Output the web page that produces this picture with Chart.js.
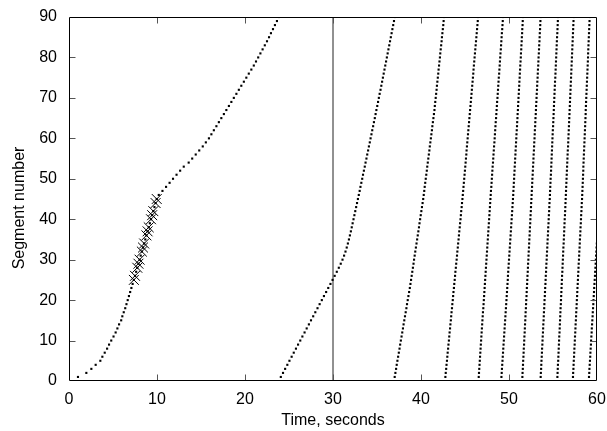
<!DOCTYPE html>
<html>
<head>
<meta charset="utf-8">
<script src="https://cdn.jsdelivr.net/npm/chart.js@4.4.1/dist/chart.umd.min.js"></script>
<style>
html,body{margin:0;padding:0;background:#fff;}
#wrap{width:607px;height:431px;position:relative;}
</style>
</head>
<body>
<div id="wrap"><canvas id="c" width="607" height="431"></canvas></div>
<script>
// ---- data ----
const xTicks = [0, 10, 20, 30, 40, 50, 60];
const yTicks = [0, 10, 20, 30, 40, 50, 60, 70, 80, 90];
const xTitle = 'Time, seconds';
const yTitle = 'Segment number';
const markerTime = 30;

const segmentNumbers = [1,2,3,4,5,6,7,8,9,10,11,12,13,14,15,16,17,18,19,20,21,22,23,24,25,26,27,28,29,30,
31,32,33,34,35,36,37,38,39,40,41,42,43,44,45,46,47,48,49,50,51,52,53,54,55,56,57,58,59,60,
61,62,63,64,65,66,67,68,69,70,71,72,73,74,75,76,77,78,79,80,81,82,83,84,85,86,87,88,89,90];

const times1 = [1.02,1.97,2.54,3.03,3.56,3.79,4.06,4.33,4.55,4.80,5.06,5.30,5.50,5.69,5.93,6.06,6.22,6.39,6.53,6.67,
6.81,6.95,7.09,7.23,7.37,7.50,7.63,7.76,7.89,8.02,8.15,8.28,8.41,8.54,8.67,8.80,8.93,9.06,9.19,9.32,
9.45,9.58,9.71,9.84,9.97,10.20,10.62,11.03,11.43,11.82,12.22,12.63,13.04,13.60,14.00,14.40,14.80,15.20,15.55,15.90,
16.18,16.46,16.75,17.03,17.31,17.60,17.88,18.17,18.45,18.73,19.02,19.30,19.58,19.87,20.15,20.43,20.72,21.00,21.25,21.50,
21.75,22.00,22.25,22.50,22.73,22.95,23.18,23.40,23.63,23.85];

const times2 = [24.07,24.32,24.56,24.81,25.05,25.30,25.54,25.79,26.03,26.28,26.52,26.77,27.01,27.26,27.50,27.75,27.99,28.24,28.48,28.73,
28.97,29.22,29.46,29.71,29.95,30.19,30.43,30.66,30.88,31.08,31.26,31.42,31.56,31.69,31.81,31.92,32.03,32.13,32.23,32.33,
32.43,32.53,32.63,32.73,32.83,32.93,33.03,33.12,33.22,33.32,33.41,33.51,33.61,33.70,33.80,33.89,33.99,34.08,34.18,34.27,
34.37,34.46,34.56,34.65,34.75,34.84,34.93,35.03,35.12,35.21,35.30,35.40,35.49,35.58,35.67,35.76,35.85,35.94,36.03,36.12,
36.21,36.30,36.39,36.48,36.57,36.66,36.75,36.84,36.93,37.02];

const times3 = [37.01,37.09,37.17,37.24,37.32,37.40,37.48,37.56,37.63,37.71,37.79,37.87,37.95,38.02,38.10,38.18,38.26,38.34,38.41,38.49,
38.57,38.65,38.73,38.80,38.87,38.94,39.01,39.08,39.15,39.21,39.28,39.35,39.42,39.49,39.56,39.63,39.70,39.77,39.83,39.90,
39.97,40.04,40.11,40.18,40.25,40.31,40.37,40.42,40.48,40.54,40.60,40.66,40.71,40.77,40.83,40.89,40.95,41.00,41.06,41.12,
41.18,41.24,41.29,41.35,41.41,41.47,41.53,41.57,41.62,41.67,41.72,41.77,41.81,41.86,41.91,41.96,42.00,42.05,42.10,42.15,
42.19,42.24,42.29,42.34,42.38,42.43,42.48,42.53,42.57,42.62];

const times4 = [42.77,42.81,42.86,42.90,42.95,42.99,43.03,43.08,43.12,43.17,43.21,43.25,43.30,43.34,43.39,43.43,43.47,43.52,43.56,43.61,
43.65,43.69,43.74,43.78,43.83,43.87,43.91,43.96,44.00,44.05,44.09,44.13,44.18,44.22,44.27,44.31,44.35,44.40,44.44,44.49,
44.53,44.57,44.62,44.66,44.71,44.75,44.79,44.83,44.87,44.91,44.95,44.99,45.03,45.07,45.11,45.15,45.18,45.22,45.26,45.30,
45.34,45.38,45.42,45.46,45.50,45.54,45.58,45.62,45.66,45.70,45.74,45.78,45.82,45.86,45.90,45.94,45.97,46.01,46.05,46.09,
46.13,46.17,46.21,46.25,46.29,46.33,46.37,46.41,46.45,46.49];

const times5 = [46.56,46.59,46.62,46.65,46.68,46.71,46.74,46.77,46.80,46.83,46.86,46.89,46.92,46.95,46.98,47.01,47.04,47.08,47.11,47.14,
47.17,47.20,47.23,47.26,47.29,47.32,47.35,47.38,47.41,47.44,47.47,47.50,47.53,47.56,47.59,47.62,47.65,47.68,47.71,47.74,
47.77,47.80,47.83,47.86,47.89,47.92,47.95,47.99,48.02,48.05,48.08,48.11,48.14,48.18,48.21,48.24,48.27,48.30,48.34,48.37,
48.40,48.43,48.46,48.49,48.53,48.56,48.59,48.62,48.65,48.69,48.72,48.75,48.78,48.81,48.84,48.88,48.91,48.94,48.97,49.00,
49.03,49.07,49.10,49.13,49.16,49.19,49.23,49.26,49.29,49.32];

const times6 = [49.14,49.17,49.20,49.23,49.26,49.29,49.32,49.35,49.38,49.41,49.44,49.47,49.50,49.53,49.56,49.59,49.62,49.65,49.68,49.71,
49.74,49.77,49.80,49.83,49.86,49.88,49.91,49.94,49.97,50.00,50.03,50.06,50.09,50.12,50.15,50.18,50.21,50.24,50.27,50.30,
50.33,50.36,50.39,50.42,50.45,50.48,50.50,50.53,50.55,50.58,50.60,50.63,50.65,50.68,50.70,50.73,50.75,50.78,50.80,50.83,
50.85,50.88,50.91,50.93,50.96,50.98,51.01,51.03,51.06,51.08,51.11,51.13,51.16,51.18,51.21,51.23,51.26,51.28,51.31,51.34,
51.36,51.39,51.41,51.44,51.46,51.49,51.51,51.54,51.56,51.59];

const times7 = [51.52,51.54,51.57,51.59,51.61,51.64,51.66,51.68,51.71,51.73,51.75,51.78,51.80,51.82,51.85,51.87,51.89,51.92,51.94,51.96,
51.99,52.01,52.03,52.06,52.08,52.10,52.13,52.15,52.17,52.20,52.22,52.24,52.27,52.29,52.31,52.34,52.36,52.38,52.41,52.43,
52.45,52.48,52.50,52.52,52.55,52.57,52.59,52.62,52.64,52.66,52.69,52.71,52.73,52.76,52.78,52.80,52.83,52.85,52.87,52.90,
52.92,52.94,52.97,52.99,53.01,53.04,53.06,53.08,53.11,53.13,53.15,53.18,53.20,53.22,53.25,53.27,53.29,53.32,53.34,53.36,
53.39,53.41,53.43,53.46,53.48,53.50,53.53,53.55,53.57,53.60];

const times8 = [53.60,53.62,53.65,53.67,53.69,53.72,53.74,53.76,53.79,53.81,53.83,53.86,53.88,53.90,53.93,53.95,53.97,54.00,54.02,54.04,
54.07,54.09,54.11,54.14,54.16,54.18,54.21,54.23,54.25,54.28,54.30,54.32,54.35,54.37,54.39,54.42,54.44,54.46,54.49,54.51,
54.53,54.56,54.58,54.60,54.63,54.65,54.67,54.69,54.71,54.73,54.76,54.78,54.80,54.82,54.84,54.86,54.88,54.90,54.92,54.94,
54.96,54.98,55.01,55.03,55.05,55.07,55.09,55.11,55.13,55.15,55.17,55.19,55.21,55.23,55.26,55.28,55.30,55.32,55.34,55.36,
55.38,55.40,55.42,55.44,55.46,55.49,55.51,55.53,55.55,55.57];

const times9 = [55.50,55.52,55.54,55.56,55.59,55.61,55.63,55.65,55.67,55.69,55.71,55.74,55.76,55.78,55.80,55.82,55.84,55.86,55.89,55.91,
55.93,55.95,55.97,55.99,56.01,56.03,56.06,56.08,56.10,56.12,56.14,56.16,56.18,56.21,56.23,56.25,56.27,56.29,56.31,56.33,
56.36,56.38,56.40,56.42,56.44,56.46,56.48,56.50,56.52,56.54,56.56,56.58,56.60,56.62,56.64,56.66,56.68,56.71,56.73,56.75,
56.77,56.79,56.81,56.83,56.85,56.87,56.89,56.91,56.93,56.95,56.97,56.99,57.01,57.03,57.05,57.07,57.09,57.11,57.13,57.15,
57.17,57.19,57.21,57.23,57.25,57.27,57.29,57.31,57.33,57.35];

const times10 = [57.27,57.29,57.32,57.34,57.36,57.39,57.41,57.43,57.46,57.48,57.50,57.53,57.55,57.57,57.60,57.62,57.64,57.67,57.69,57.71,
57.74,57.76,57.78,57.81,57.83,57.85,57.88,57.90,57.92,57.95,57.97,57.99,58.02,58.04,58.06,58.09,58.11,58.13,58.16,58.18,
58.20,58.23,58.25,58.27,58.30,58.32,58.34,58.36,58.38,58.40,58.42,58.44,58.45,58.47,58.49,58.51,58.53,58.55,58.57,58.59,
58.61,58.63,58.65,58.67,58.69,58.71,58.72,58.74,58.76,58.78,58.80,58.82,58.84,58.86,58.88,58.90,58.92,58.94,58.96,58.98,
58.99,59.01,59.03,59.05,59.07,59.09,59.11,59.13,59.15,59.17];

const times11 = [59.09,59.12,59.14,59.17,59.20,59.23,59.25,59.28,59.31,59.33,59.36,59.39,59.41,59.44,59.47,59.50,59.52,59.55,59.58,59.60,
59.63,59.66,59.68,59.71,59.74,59.77,59.79,59.82,59.85,59.87,59.90,59.93,59.95,59.98];

const crossSegments = [25,26,28,29,30,32,33,34,36,37,38,40,41,42,44,45];
const crossTimes = [7.37,7.50,7.76,7.89,8.02,8.28,8.41,8.54,8.80,8.93,9.06,9.32,9.45,9.58,9.84,9.97];

// ---- build datasets ----
const allCurves = [times1,times2,times3,times4,times5,times6,times7,times8,times9,times10,times11];
const toPoints = (ts, segs) => ts.map((t, i) => ({x: t, y: segs[i]}));

const datasets = allCurves.map(ts => ({
  type: 'scatter',
  data: toPoints(ts, segmentNumbers),
  pointStyle: 'rect',
  pointRadius: 1.5,
  pointBorderWidth: 0,
  pointBackgroundColor: '#000',
  pointBorderColor: '#000',
  showLine: false
}));
datasets.push({
  type: 'scatter',
  data: toPoints(crossTimes, crossSegments),
  pointStyle: 'crossRot',
  pointRadius: 7,
  pointBorderWidth: 1,
  pointBorderColor: '#000',
  pointBackgroundColor: '#000',
  showLine: false
});
datasets.push({
  type: 'line',
  data: [{x: markerTime, y: yTicks[0]}, {x: markerTime, y: yTicks[yTicks.length - 1]}],
  borderColor: '#222',
  borderWidth: 1,
  pointRadius: 0,
  fill: false
});

const FONT = '"Liberation Sans", Arial, Helvetica, sans-serif';

const frameTicks = {
  id: 'frameTicks',
  afterDatasetsDraw(chart) {
    const {ctx, chartArea: a, scales: {x, y}} = chart;
    const L = Math.round(a.left) + 0.5, R = Math.round(a.right) - 0.5;
    const T = Math.round(a.top) + 0.5, B = Math.round(a.bottom) - 0.5;
    const len = 6;
    ctx.save();
    ctx.strokeStyle = '#555';
    ctx.lineWidth = 1;
    ctx.beginPath();
    xTicks.slice(1, -1).forEach(v => {
      const px = Math.round(x.getPixelForValue(v)) + 0.5;
      ctx.moveTo(px, B); ctx.lineTo(px, B - len);
      ctx.moveTo(px, T); ctx.lineTo(px, T + len);
    });
    yTicks.slice(1, -1).forEach(v => {
      const py = Math.round(y.getPixelForValue(v)) + 0.5;
      ctx.moveTo(L, py); ctx.lineTo(L + len, py);
      ctx.moveTo(R, py); ctx.lineTo(R - len, py);
    });
    ctx.stroke();
    ctx.strokeStyle = '#000';
    ctx.beginPath();
    ctx.rect(L, T, R - L, B - T);
    ctx.stroke();
    // y axis title, placed as in the reference (slightly below the axis middle)
    ctx.fillStyle = '#000';
    ctx.font = '16px ' + FONT;
    ctx.textAlign = 'center';
    ctx.textBaseline = 'middle';
    ctx.translate(20, 208);
    ctx.rotate(-Math.PI / 2);
    ctx.fillText(yTitle, 0, 0);
    ctx.restore();
  }
};

new Chart(document.getElementById('c'), {
  data: {datasets},
  options: {
    responsive: false,
    animation: false,
    events: [],
    layout: {padding: {left: 0, right: 10, top: 17, bottom: 0}},
    plugins: {legend: {display: false}, tooltip: {enabled: false}},
    scales: {
      x: {
        type: 'linear', min: 0, max: 60,
        afterBuildTicks: s => { s.ticks = xTicks.map(v => ({value: v})); },
        afterFit: s => { s.height = 50; s.paddingLeft = 0; s.paddingRight = 0; },
        ticks: {padding: 9, color: '#000', font: {family: FONT, size: 16}},
        grid: {display: false, drawTicks: false},
        border: {display: false},
        title: {display: true, text: xTitle, color: '#000', font: {family: FONT, size: 16}, padding: {top: 0, bottom: 1}}
      },
      y: {
        type: 'linear', min: 0, max: 90,
        afterBuildTicks: s => { s.ticks = yTicks.map(v => ({value: v})); },
        afterFit: s => { s.width = 69; s.paddingTop = 0; s.paddingBottom = 0; },
        ticks: {padding: 12, color: '#000', font: {family: FONT, size: 16}},
        grid: {display: false, drawTicks: false},
        border: {display: false},
        title: {display: false, text: yTitle}
      }
    }
  },
  plugins: [frameTicks]
});
</script>
</body>
</html>
